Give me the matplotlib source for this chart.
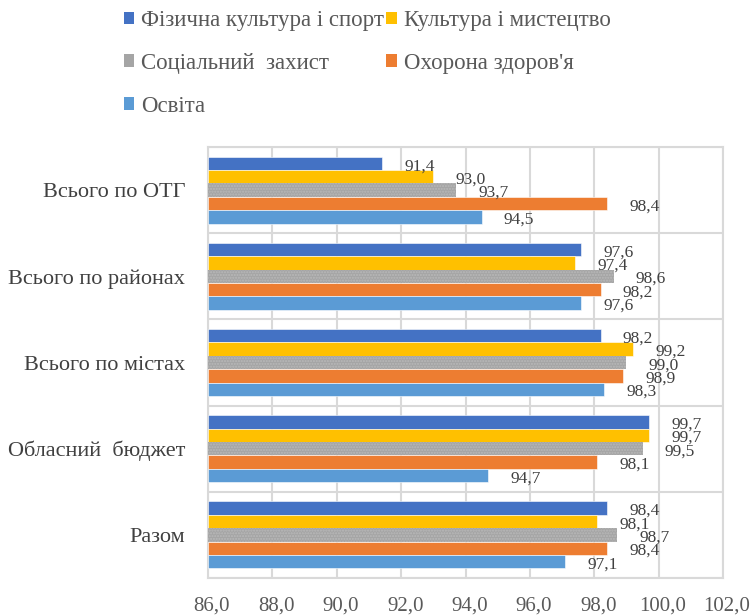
import matplotlib
matplotlib.use("Agg")
import matplotlib.pyplot as plt
from matplotlib.patches import Patch
from matplotlib.transforms import ScaledTranslation
import numpy as np

categories = ["Всього по ОТГ", "Всього по районах", "Всього по містах", "Обласний  бюджет", "Разом"]
series_names = ["Фізична культура і спорт", "Культура і мистецтво", "Соціальний  захист",
                "Охорона здоров'я", "Освіта"]
fizkult = [91.4, 97.6, 98.2, 99.7, 98.4]
kultura = [93.0, 97.4, 99.2, 99.7, 98.1]
sotszakhyst = [93.7, 98.6, 99.0, 99.5, 98.7]
okhorona = [98.4, 98.2, 98.9, 98.1, 98.4]
osvita = [94.5, 97.6, 98.3, 94.7, 97.1]
x_ticks = [86.0, 88.0, 90.0, 92.0, 94.0, 96.0, 98.0, 100.0, 102.0]

series = [fizkult, kultura, sotszakhyst, okhorona, osvita]
colors = ["#4472C4", "#FFC000", "#A5A5A5", "#ED7D31", "#5B9BD5"]

plt.rcParams['font.family'] = ['Liberation Serif', 'DejaVu Serif']
SERIF = ['Liberation Serif', 'DejaVu Serif']

fig = plt.figure(figsize=(7.52, 6.16), dpi=100)
ax = fig.add_axes([208/752, 38/616, 515/752, 431/616])

h = 0.155
y = np.arange(len(categories))
handles = []
for j, (vals, col, name) in enumerate(zip(series, colors, series_names)):
    pos = y + (j - 2) * h
    if j == 2:
        ax.barh(pos, np.array(vals) - x_ticks[0], left=x_ticks[0], height=h,
                color=col, edgecolor="#B9B9B9", linewidth=0, hatch="......", zorder=3)
    else:
        ax.barh(pos, np.array(vals) - x_ticks[0], left=x_ticks[0], height=h,
                color=col, edgecolor="white", linewidth=0.4, zorder=3)
    for p, v in zip(pos, vals):
        ax.annotate(f"{v:.1f}".replace(".", ","), xy=(v, p), xytext=(16, -2),
                    textcoords="offset points", ha="left", va="center",
                    fontsize=12.5, color="#404040", family=SERIF, zorder=4)
    handles.append(Patch(facecolor=col, edgecolor="none", label=name))

ax.set_xlim(x_ticks[0], x_ticks[-1])
ax.set_ylim(len(categories) - 0.5, -0.5)
ax.set_xticks(x_ticks)
ax.set_xticklabels([f"{t:.1f}".replace(".", ",") for t in x_ticks], fontsize=15,
                   color="#595959", family=SERIF)
ax.set_yticks(y)
ax.set_yticklabels(categories, fontsize=16, color="#404040", family=SERIF)
ax.set_yticks(np.arange(len(categories) + 1) - 0.5, minor=True)
ax.tick_params(axis="x", length=0, pad=13)
ax.tick_params(axis="y", which="both", length=0, pad=16.5)
shift = ScaledTranslation(4/100, 0, fig.dpi_scale_trans)
for lab in ax.get_xticklabels():
    lab.set_transform(lab.get_transform() + shift)
ax.grid(axis="x", color="#D9D9D9", linewidth=1.5, zorder=0)
ax.grid(axis="y", which="minor", color="#D9D9D9", linewidth=1.5, zorder=0)
ax.grid(axis="y", which="major", visible=False)
for s in ax.spines.values():
    s.set_color("#D9D9D9")
    s.set_linewidth(1.5)

order = [0, 2, 4, 1, 3]
fig.legend([handles[i] for i in order], [series_names[i] for i in order],
           loc="upper left", bbox_to_anchor=(124/752, 1 - 10/616), ncol=2, frameon=False,
           prop=dict(family=SERIF, size=16.5), handlelength=0.45, handleheight=0.45,
           handletextpad=0.3, columnspacing=0.1, labelspacing=0.95, borderpad=0,
           borderaxespad=0, labelcolor="#595959")

fig.savefig("out.png", dpi=100)
